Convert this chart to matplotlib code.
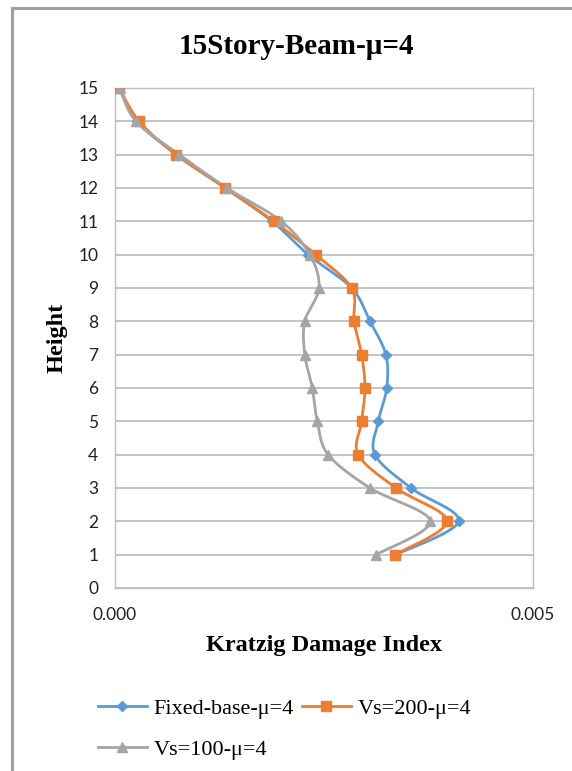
import numpy as np
import matplotlib
matplotlib.use("Agg")
import matplotlib.pyplot as plt
from matplotlib.lines import Line2D

heights = [15, 14, 13, 12, 11, 10, 9, 8, 7, 6, 5, 4, 3, 2, 1]
fixed_base = [0.00005, 0.00026, 0.00074, 0.00132, 0.00188, 0.00231, 0.00283, 0.00305,
              0.00324, 0.00325, 0.00315, 0.00311, 0.00354, 0.00411, 0.00336]
vs200 = [0.00005, 0.00029, 0.00073, 0.00132, 0.00190, 0.00240, 0.00283, 0.00286,
         0.00295, 0.00299, 0.00295, 0.00291, 0.00336, 0.00397, 0.00335]
vs100 = [0.00006, 0.00025, 0.00077, 0.00134, 0.00199, 0.00233, 0.00244, 0.00227,
         0.00227, 0.00236, 0.00242, 0.00255, 0.00305, 0.00377, 0.00312]
labels = ["Fixed-base-\u03bc=4", "Vs=200-\u03bc=4", "Vs=100-\u03bc=4"]
colors = ["#5B9BD5", "#ED7D31", "#A5A5A5"]
markers = ["D", "s", "^"]
msizes = [5, 7, 7]
title = "15Story-Beam-\u03bc=4"
xlabel = "Kratzig Damage Index"
ylabel = "Height"

W, H = 572, 771
fig = plt.figure(figsize=(W / 100, H / 100), dpi=100)
# screenshot frame: left and top edges only
fig.add_artist(Line2D([12 / W, 12 / W], [0, 1 - 8 / H], transform=fig.transFigure,
                      color="#A0A0A0", lw=2.2))
fig.add_artist(Line2D([12 / W, 1], [1 - 8 / H, 1 - 8 / H], transform=fig.transFigure,
                      color="#A0A0A0", lw=2.2))

ax = fig.add_axes([115 / W, 1 - 588 / H, (533 - 115) / W, (588 - 88) / H])


def smooth(xs, ys, n=20):
    # Catmull-Rom curve through the data points (display-like smoothing)
    pts = np.column_stack([xs, ys]).astype(float)
    sx = 1 / 0.0002
    pts[:, 0] *= sx
    P = np.vstack([pts[0], pts, pts[-1]])
    out = []
    for i in range(1, len(P) - 2):
        p0, p1, p2, p3 = P[i - 1], P[i], P[i + 1], P[i + 2]
        t = np.linspace(0, 1, n, endpoint=False)[:, None]
        seg = 0.5 * ((2 * p1) + (-p0 + p2) * t + (2 * p0 - 5 * p1 + 4 * p2 - p3) * t ** 2
                     + (-p0 + 3 * p1 - 3 * p2 + p3) * t ** 3)
        out.append(seg)
    out.append(P[-2][None, :])
    out = np.vstack(out)
    out[:, 0] /= sx
    return out[:, 0], out[:, 1]


series = [fixed_base, vs200, vs100]
order = [2, 0, 1]
for k in order:
    xs = series[k]
    sx, sy = smooth(xs, heights)
    ax.plot(sx, sy, color=colors[k], lw=2.0, zorder=3 + k, solid_capstyle="round")
    ax.plot(xs, heights, linestyle="none", marker=markers[k], markersize=msizes[k],
            color=colors[k], zorder=4 + k)

ax.set_xlim(0, 0.005)
ax.set_ylim(0, 15)
ax.set_yticks(range(0, 16))
ax.set_xticks([0, 0.005])
ax.set_xticklabels(["0.000", "0.005"])
ax.grid(axis="y", color="#BFBFBF", linewidth=1.3, zorder=0)
ax.set_axisbelow(True)
for s in ax.spines.values():
    s.set_color("#BFBFBF")
    s.set_linewidth(1.0)
ax.tick_params(length=0, labelsize=12.5, colors="#222222")
ax.tick_params(axis="y", pad=12)
ax.tick_params(axis="x", pad=14)
for t in ax.get_xticklabels() + ax.get_yticklabels():
    t.set_fontfamily("Lato")

fig.text(296 / W, 1 - 46 / H, title, ha="center", va="center",
         fontsize=21, fontweight="bold", family="Liberation Serif")
fig.text(324 / W, 1 - 645 / H, xlabel, ha="center", va="center",
         fontsize=17.5, fontweight="bold", family="Liberation Serif")
fig.text(57 / W, 1 - 338 / H, ylabel, ha="center", va="center", rotation=90,
         fontsize=17.5, fontweight="bold", family="Liberation Serif")

handles = [Line2D([0], [0], color=colors[k], lw=2, marker=markers[k], markersize=msizes[k])
           for k in range(3)]
lg_order = [0, 2, 1]
leg = fig.legend([handles[i] for i in lg_order], [labels[i] for i in lg_order],
                 loc="upper left", bbox_to_anchor=(98 / W, 1 - 698 / H),
                 ncol=2, frameon=False, prop={"family": "Liberation Serif", "size": 16},
                 handlelength=2.2, handletextpad=0.3, columnspacing=0.35, labelspacing=0.95,
                 borderaxespad=0, borderpad=0)

fig.savefig("out.png", dpi=100, facecolor="white")
